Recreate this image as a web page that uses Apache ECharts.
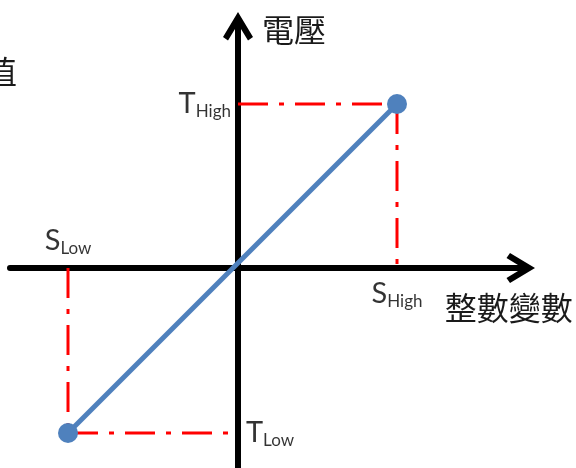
<!DOCTYPE html>
<html lang="zh-Hant">
<head>
    <meta charset="UTF-8">
    <title>整數變數與電壓</title>
    <script src="https://cdn.jsdelivr.net/npm/echarts@6/dist/echarts.min.js"></script>
    <style>
        html, body { margin: 0; padding: 0; background: #fff; }
        #chart { width: 576px; height: 468px; }
    </style>
</head>
<body>
<div id="chart"></div>
<script>
    // end points of the mapping (x = 整數變數 S, y = 電壓 T)
    const sValues = [-170, 159];          // S_Low, S_High
    const tValues = [-165, 164];          // T_Low, T_High
    // visible extent of the two axes
    const xExtent = [-228, 282.75];
    const yExtent = [-200, 241.75];
    // point labels: [main, subscript]
    const labelTexts = [['T', 'High'], ['S', 'Low'], ['S', 'High'], ['T', 'Low']];

    const sLow = sValues[0], sHigh = sValues[1];
    const tLow = tValues[0], tHigh = tValues[1];

    const chart = echarts.init(document.getElementById('chart'));

    const arrow = 'path://M0,-4L15,21L10,24.5L3,13L3,24.5L-3,24.5L-3,13L-10,24.5L-15,21Z';
    const axisCommon = {
        type: 'value',
        axisLine: {
            show: true,
            onZero: true,
            symbol: ['none', arrow],
            symbolSize: [30, 28.5],
            lineStyle: { color: '#000', width: 6 }
        },
        axisTick: { show: false },
        axisLabel: { show: false },
        splitLine: { show: false },
        nameTextStyle: {
            fontFamily: 'Noto Sans CJK TC',
            fontSize: 32,
            color: '#1a1a1a'
        }
    };

    const dash = { color: '#ff0000', width: 3, type: [30, 11, 5, 11] };
    function guide(from, to) {
        return {
            type: 'line',
            data: [from, to],
            symbol: 'none',
            silent: true,
            z: 1,
            lineStyle: dash
        };
    }

    const rich = {
        m: { fontFamily: 'Lato', fontSize: 29, lineHeight: 34, color: '#000' },
        s: { fontFamily: 'Lato', fontSize: 17, lineHeight: 18, padding: [16, 0, 0, 0], color: '#000' }
    };
    const labelPos = ['left', 'top', 'bottom', 'right'];
    const labelDist = [7, 10, 9, 8];
    const labelPoints = [[0, tHigh], [sLow, 0], [sHigh, 0], [0, tLow]];

    const option = {
        animation: false,
        backgroundColor: '#fff',
        grid: { left: 10, right: 55.25, top: 26.25, bottom: 0 },
        xAxis: Object.assign({}, axisCommon, {
            min: xExtent[0],
            max: xExtent[1],
            name: '整數變數',
            nameLocation: 'end',
            nameGap: 52,
            nameTextStyle: Object.assign({}, axisCommon.nameTextStyle, {
                align: 'right',
                verticalAlign: 'top',
                padding: [24, 0, 0, 0]
            })
        }),
        yAxis: Object.assign({}, axisCommon, {
            min: yExtent[0],
            max: yExtent[1],
            name: '電壓',
            nameLocation: 'end',
            nameGap: -4,
            nameTextStyle: Object.assign({}, axisCommon.nameTextStyle, {
                align: 'left',
                verticalAlign: 'middle',
                padding: [0, 0, 0, 24]
            })
        }),
        graphic: [{
            type: 'text',
            x: 17,
            y: 72,
            style: {
                text: '值',
                align: 'right',
                verticalAlign: 'middle',
                font: '32px "Noto Sans CJK TC"',
                fill: '#1a1a1a'
            }
        }],
        series: [
            guide([0, tHigh], [sHigh, tHigh]),
            guide([sHigh, tHigh], [sHigh, 0]),
            guide([sLow, 0], [sLow, tLow]),
            guide([sLow, tLow], [0, tLow]),
            {
                type: 'line',
                data: [[sLow, tLow], [sHigh, tHigh]],
                symbol: 'circle',
                symbolSize: 20,
                z: 3,
                itemStyle: { color: '#4f81bd' },
                lineStyle: { color: '#4f81bd', width: 5 }
            },
            {
                type: 'scatter',
                symbolSize: 0,
                silent: true,
                z: 4,
                data: labelPoints.map(function (p, i) {
                    return {
                        value: p,
                        label: {
                            show: true,
                            position: labelPos[i],
                            distance: labelDist[i],
                            formatter: '{m|' + labelTexts[i][0] + '}{s|' + labelTexts[i][1] + '}',
                            rich: rich
                        }
                    };
                })
            }
        ]
    };
    chart.setOption(option);
</script>
</body>
</html>
